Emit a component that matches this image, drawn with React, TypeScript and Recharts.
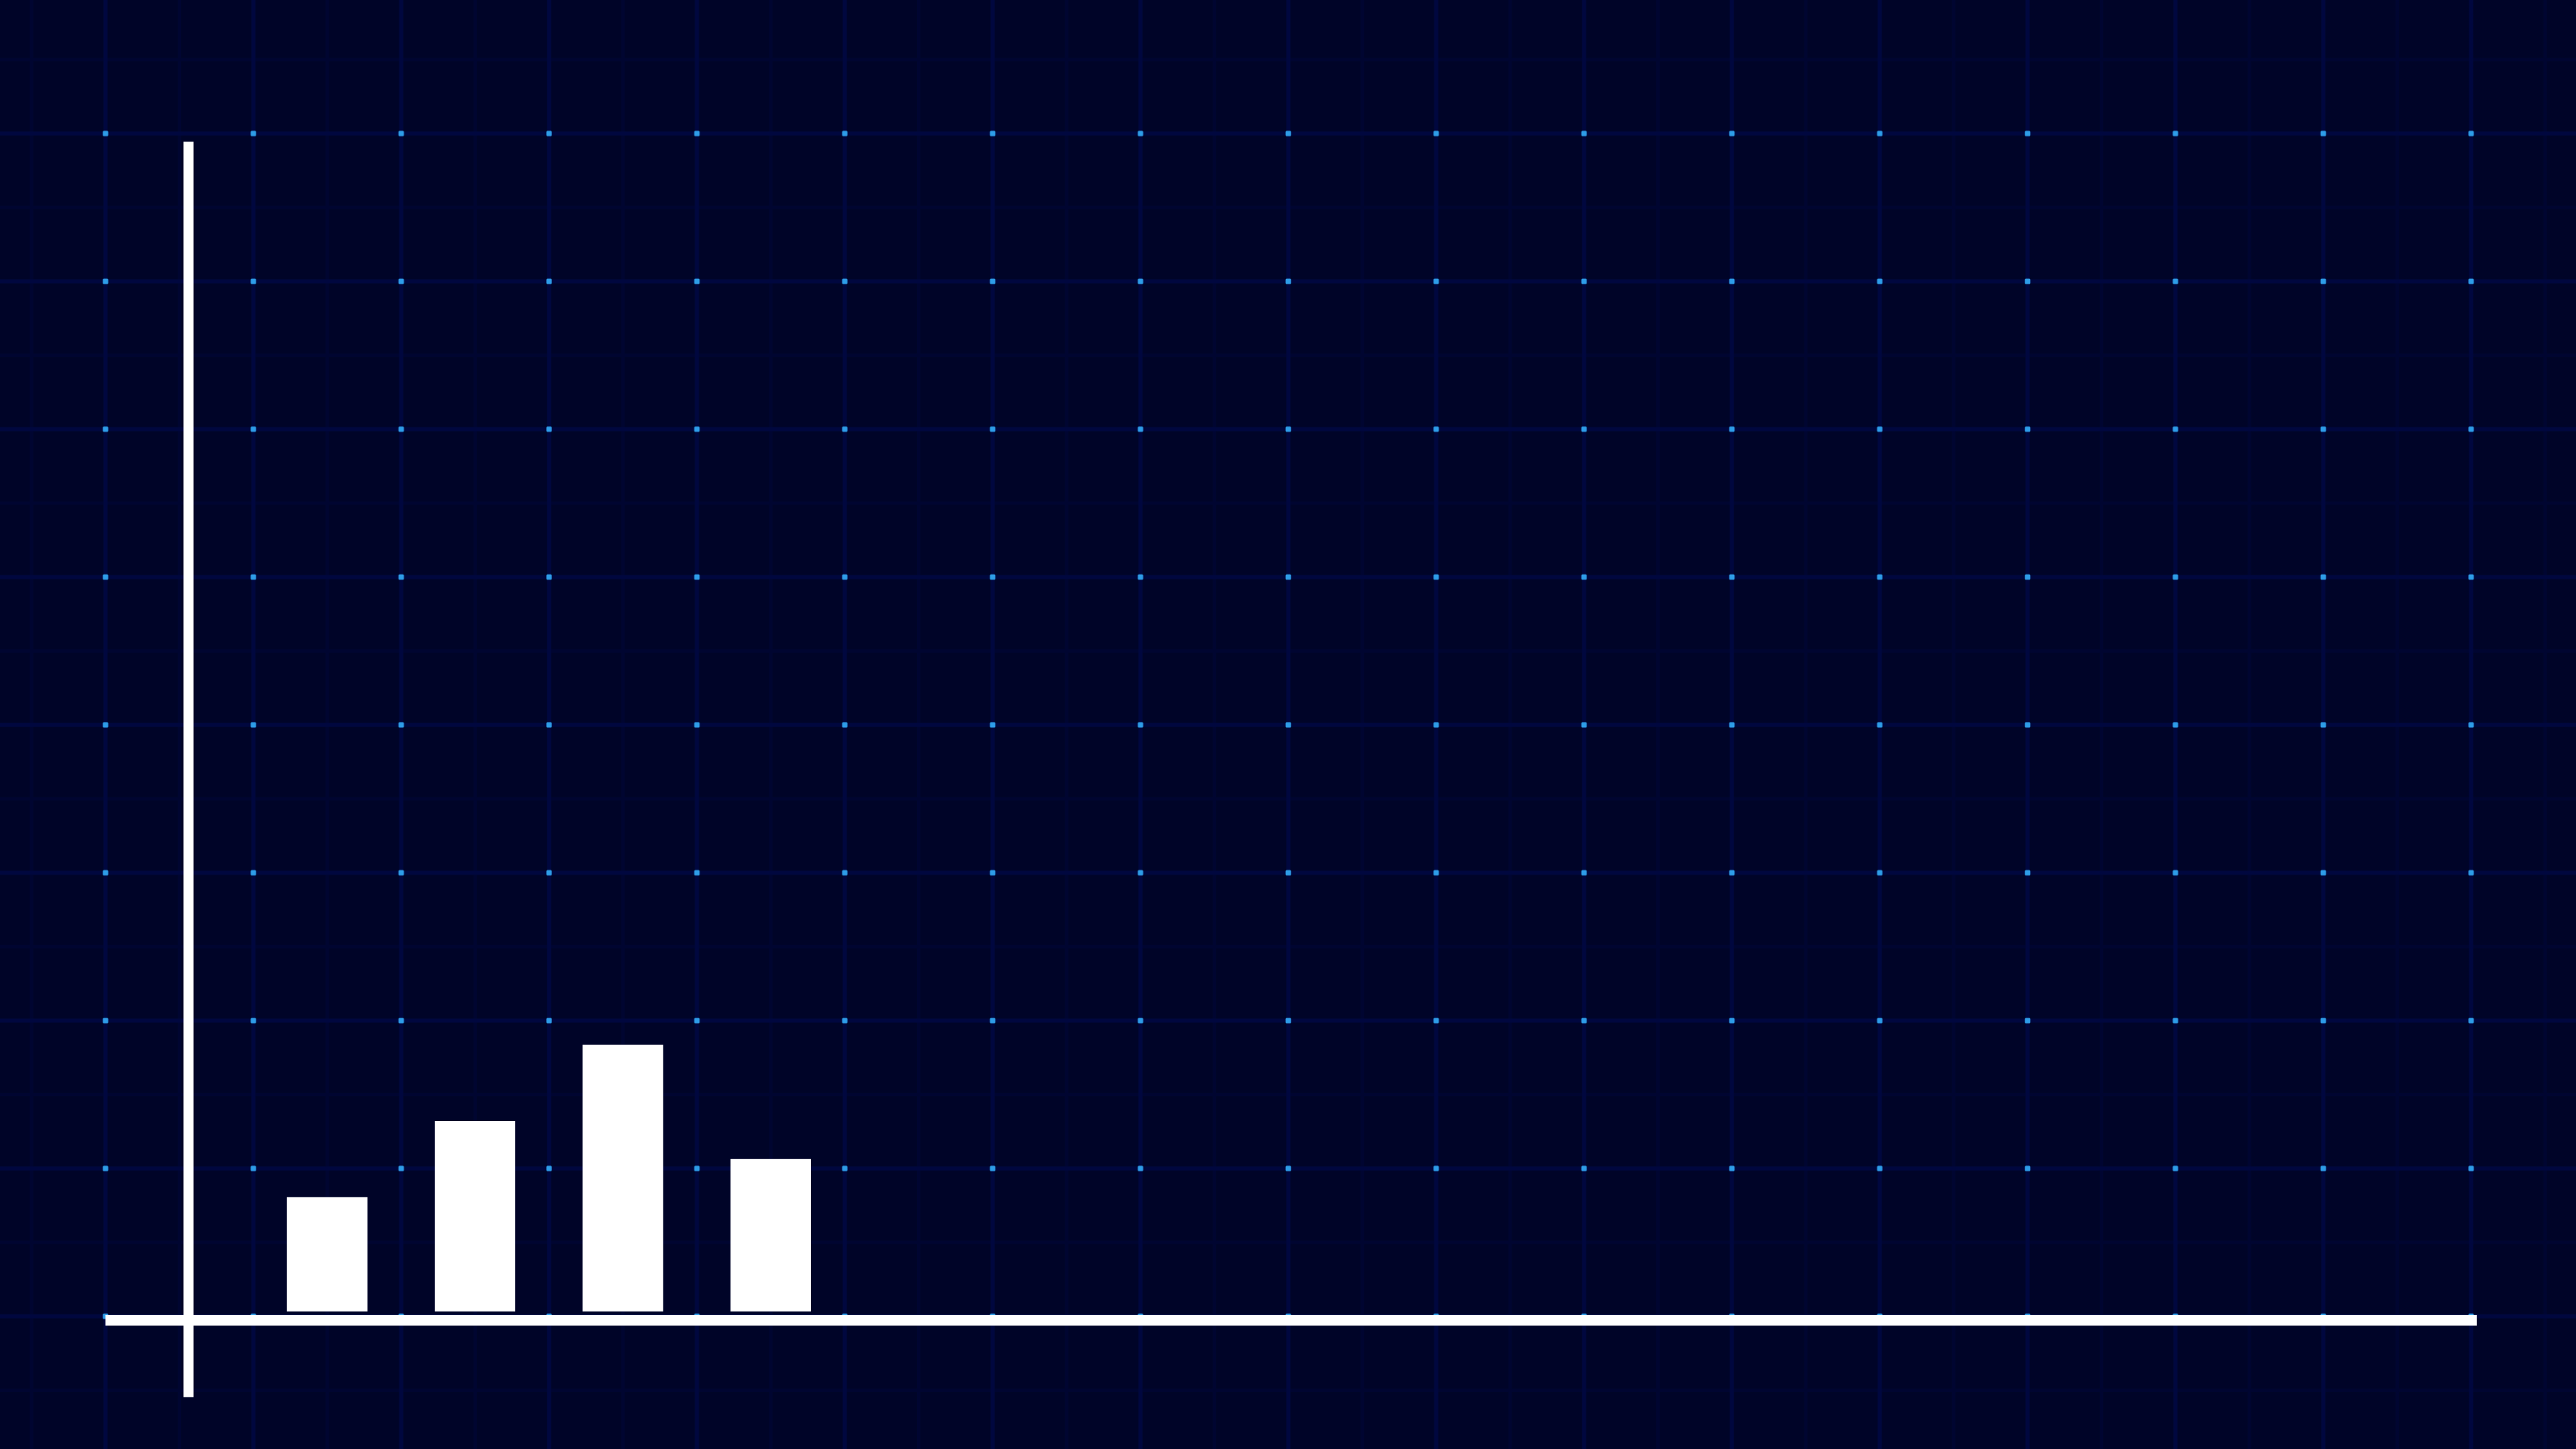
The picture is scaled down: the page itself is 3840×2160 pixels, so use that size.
import React from 'react';
import { BarChart, Bar, XAxis, YAxis, ReferenceLine } from 'recharts';

// data
const categories = ['A', 'B', 'C', 'D'];
const values = [3, 5, 7, 4];
const yMax = 30;

// the vertical axis line sticks out past the plot at both ends
const yAxisTop = 30.7;
const yAxisBottom = -2.25;
const yAxisAt = 0.56; // on the 16-cell frame axis

const data = categories.map((name, i) => ({ name, value: values[i] }));

const W = 3840;
const H = 2160;
const CELL = 220.4;
const X0 = 157.3; // first grid column
const Y0 = 199; // first grid row
const PLOT_RIGHT = 3692;

const BG = '#000428';
const MINOR = '#000531';
const MAJOR = '#00073f';
const DOT = '#2e9de8';

const GridBackground = () => {
    const half = CELL / 2;
    return (
        <svg width={W} height={H} style={{ position: 'absolute', left: 0, top: 0 }}>
            <defs>
                <pattern id="minorGrid" x={X0 - half / 2} y={Y0 - half / 2} width={half} height={half} patternUnits="userSpaceOnUse">
                    <rect x={half / 2 - 2.5} y={0} width={5} height={half} fill={MINOR} />
                    <rect x={0} y={half / 2 - 2.5} width={half} height={5} fill={MINOR} />
                </pattern>
                <pattern id="majorGrid" x={X0 - half} y={Y0 - half} width={CELL} height={CELL} patternUnits="userSpaceOnUse">
                    <rect x={half - 3} y={0} width={6} height={CELL} fill={MAJOR} />
                    <rect x={0} y={half - 3} width={CELL} height={6} fill={MAJOR} />
                    <rect x={half - 4} y={half - 4} width={8} height={8} rx={1.5} fill={DOT} />
                </pattern>
            </defs>
            <rect width={W} height={H} fill={BG} />
            <rect width={W} height={H} fill="url(#minorGrid)" />
            <rect width={W} height={H} fill="url(#majorGrid)" />
        </svg>
    );
};

export default function App() {
    return (
        <div style={{ position: 'absolute', left: 0, top: 0, width: W, height: H, overflow: 'hidden', background: BG }}>
            <GridBackground />
            <div style={{ position: 'absolute', left: 0, top: 0 }}>
                <BarChart width={W} height={H} data={data} margin={{ top: 251, right: W - PLOT_RIGHT, bottom: 162, left: X0 }}>
                    <XAxis
                        dataKey="name"
                        height={30}
                        padding={{ left: CELL, right: PLOT_RIGHT - X0 - 5 * CELL }}
                        tick={false}
                        tickLine={false}
                        axisLine={{ stroke: '#ffffff', strokeWidth: 16 }}
                    />
                    <XAxis xAxisId="frame" dataKey="frame" type="number" domain={[0, 16]} allowDataOverflow hide />
                    <YAxis domain={[0, yMax]} allowDataOverflow padding={{ bottom: 13 }} hide />
                    <Bar dataKey="value" fill="#ffffff" barSize={120} isAnimationActive={false} />
                    <ReferenceLine
                        xAxisId="frame"
                        segment={[{ x: yAxisAt, y: yAxisTop }, { x: yAxisAt, y: yAxisBottom }]}
                        stroke="#ffffff"
                        strokeWidth={15}
                        ifOverflow="visible"
                    />
                </BarChart>
            </div>
        </div>
    );
}
